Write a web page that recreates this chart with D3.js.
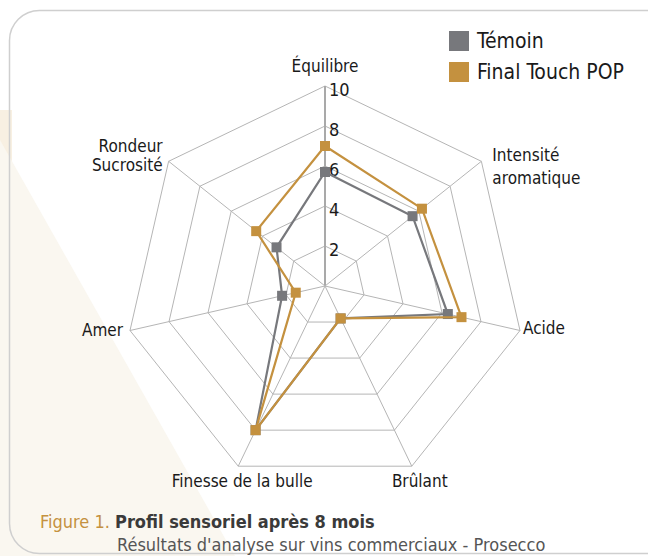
<!DOCTYPE html>
<html>
<head>
<meta charset="utf-8">
<script src="https://cdn.jsdelivr.net/npm/d3@7"></script>
<style>
  body { margin: 0; background: #fff; }
  svg { display: block; font-family: "DejaVu Sans Condensed", "DejaVu Sans", sans-serif; font-stretch: condensed; }
</style>
</head>
<body>
<svg id="chart" width="648" height="556"></svg>
<script>
// Chart data
const axes = ['Équilibre', 'Intensité\naromatique', 'Acide', 'Brûlant', 'Finesse de la bulle', 'Amer', 'Rondeur\nSucrosité']
const temoin = [5.7, 5.6, 6.3, 1.8, 8.0, 2.2, 3.1]
const finalTouch = [7.0, 6.2, 7.0, 1.8, 8.0, 1.5, 4.4]
const seriesNames = ['Témoin', 'Final Touch POP']
const ticks = [2, 4, 6, 8, 10]

const colors = ['#77787c', '#c4913f']

const svg = d3.select('#chart')
const cx = 325
const cy = 286
const R = 200

// background card
svg.append('rect').attr('x', 0).attr('y', 0).attr('width', 648).attr('height', 556).attr('fill', '#fff')
svg.append('rect').attr('x', 0).attr('y', 110).attr('width', 12).attr('height', 446).attr('fill', '#f8f0e2')
svg.append('path')
    .attr('d', 'M0,140 L0,556 L235,556 Z')
    .attr('fill', '#faf7f0')
svg.append('rect')
    .attr('x', 9.5).attr('y', 10.5)
    .attr('width', 670).attr('height', 543)
    .attr('rx', 30)
    .attr('fill', 'none')
    .attr('stroke', '#cfcfcf')
    .attr('stroke-width', 1.5)

const r = d3.scaleLinear().domain([0, 10]).range([0, R])
const angle = d3.scaleLinear().domain([0, axes.length]).range([0, 2 * Math.PI])

const pt = (i, v) => [cx + r(v) * Math.sin(angle(i)), cy - r(v) * Math.cos(angle(i))]

const g = svg.append('g')

// grid rings
ticks.forEach(t => {
    g.append('polygon')
        .attr('points', axes.map((d, i) => pt(i, t).join(',')).join(' '))
        .attr('fill', 'none')
        .attr('stroke', '#b5b5b5')
        .attr('stroke-width', 1)
})

// spokes
axes.forEach((d, i) => {
    const [x, y] = pt(i, 10)
    g.append('line')
        .attr('x1', cx).attr('y1', cy).attr('x2', x).attr('y2', y)
        .attr('stroke', i === 0 ? '#a9a9a9' : '#b5b5b5')
        .attr('stroke-width', i === 0 ? 2 : 1)
})

// tick labels
g.selectAll('.tick')
  .data(ticks)
  .join('text')
    .attr('x', cx + 4)
    .attr('y', d => cy - r(d) + 10)
    .attr('font-size', 18)
    .attr('fill', '#1a1a1a')
    .text(d => d)

// axis labels: [dx, dy of first baseline, line height] relative to the outer vertex
const labelPos = [[0, -14, 0], [11, 0, 23], [3, 3, 0], [8, 21, 0], [4, 21, 0], [-7, 5, 0], [-6, -9, 19]]
axes.forEach((d, i) => {
    const a = angle(i)
    const s = Math.sin(a), c = Math.cos(a)
    const [vx, vy] = pt(i, 10)
    const [dx, dy, lh] = labelPos[i]
    const anchor = Math.abs(c) > 0.8 ? 'middle' : (s > 0 ? 'start' : 'end')
    const t = g.append('text')
        .attr('text-anchor', anchor)
        .attr('font-size', 17)
        .attr('fill', '#1a1a1a')
    d.split('\n').forEach((l, k) => {
        t.append('tspan')
            .attr('x', vx + dx)
            .attr('y', vy + dy + k * lh)
            .text(l)
    })
})

// series
const line = d3.line().curve(d3.curveLinearClosed)
;[temoin, finalTouch].forEach((vals, si) => {
    const pts = vals.map((v, i) => pt(i, v))
    g.append('path')
        .attr('d', line(pts))
        .attr('fill', 'none')
        .attr('stroke', colors[si])
        .attr('stroke-width', 2.2)
    g.selectAll(`.m${si}`)
      .data(pts)
      .join('rect')
        .attr('x', d => d[0] - 5)
        .attr('y', d => d[1] - 5)
        .attr('width', 10)
        .attr('height', 10)
        .attr('fill', colors[si])
})

// legend
const legend = svg.append('g').attr('transform', 'translate(449,31)')
seriesNames.forEach((n, i) => {
    legend.append('rect')
        .attr('x', 0).attr('y', i * 31)
        .attr('width', 20).attr('height', 20)
        .attr('fill', colors[i])
    legend.append('text')
        .attr('x', 28).attr('y', i * 31 + 17)
        .attr('font-size', 21)
        .attr('fill', '#1a1a1a')
        .text(n)
})

// caption
const cap = svg.append('text').attr('x', 40).attr('y', 528).attr('font-size', 18)
cap.append('tspan').attr('fill', '#c4913f').text('Figure 1. ')
cap.append('tspan').attr('fill', '#3a3a3a').attr('font-weight', 'bold').text('Profil sensoriel après 8 mois')
svg.append('text')
    .attr('x', 117).attr('y', 551)
    .attr('font-size', 18)
    .attr('fill', '#555')
    .text("Résultats d'analyse sur vins commerciaux - Prosecco")
</script>
</body>
</html>
